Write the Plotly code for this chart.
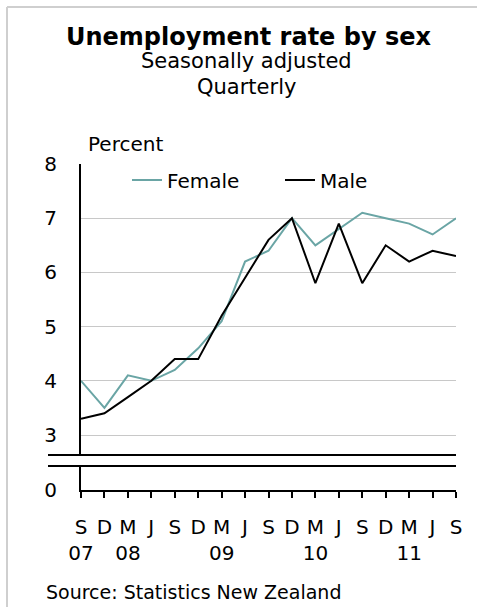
import plotly.graph_objects as go

quarters = ["S", "D", "M", "J", "S", "D", "M", "J", "S", "D", "M", "J", "S", "D", "M", "J", "S"]
years = ["07", "", "08", "", "", "", "09", "", "", "", "10", "", "", "", "11", "", ""]
female = [4.0, 3.5, 4.1, 4.0, 4.2, 4.6, 5.1, 6.2, 6.4, 7.0, 6.5, 6.8, 7.1, 7.0, 6.9, 6.7, 7.0]
male = [3.3, 3.4, 3.7, 4.0, 4.4, 4.4, 5.2, 5.9, 6.6, 7.0, 5.8, 6.9, 5.8, 6.5, 6.2, 6.4, 6.3]
y_ticks_top = [3, 4, 5, 6, 7, 8]
y_ticks_bottom = [0]

W, H = 477, 607
ML, MR, MT, MB = 81, 21, 164, 117
PW, PH = W - ML - MR, H - MT - MB


def px(xp):
    return (xp - ML) / PW


def py(yp):
    return (H - MB - yp) / PH


FONT = "DejaVu Sans"
x = list(range(len(quarters)))
ticktext = [q + ("<br>" + y if y else "") for q, y in zip(quarters, years)]

fig = go.Figure()
fig.add_trace(go.Scatter(x=x, y=female, name="Female", mode="lines",
                         line=dict(color="#6aa5a5", width=2)))
fig.add_trace(go.Scatter(x=x, y=male, name="Male", mode="lines",
                         line=dict(color="#000000", width=2)))
# empty trace so that the lower (broken-axis) panel is created
fig.add_trace(go.Scatter(x=[], y=[], xaxis="x", yaxis="y2", mode="lines",
                         showlegend=False, hoverinfo="skip"))

top_lo = py(455)
bot_hi = py(466)

fig.update_layout(
    width=W, height=H,
    margin=dict(l=ML, r=MR, t=MT, b=MB, pad=0),
    paper_bgcolor="white", plot_bgcolor="white",
    font=dict(family=FONT, size=20, color="black"),
    showlegend=True,
    legend=dict(orientation="h", x=px(127), xanchor="left", y=py(180), yanchor="middle",
                font=dict(size=20), bgcolor="rgba(0,0,0,0)", itemwidth=30,
                entrywidth=108, entrywidthmode="pixels", tracegroupgap=0),
    xaxis=dict(range=[0, len(quarters) - 1], anchor="y2", showgrid=False, zeroline=False,
               showline=True, linecolor="black", linewidth=2,
               ticks="outside", ticklen=6, tickwidth=2, tickcolor="black",
               tickvals=x, ticktext=ticktext, tickangle=0, ticklabelstandoff=12,
               tickfont=dict(size=20)),
    yaxis=dict(domain=[top_lo, 1], range=[3 - 20 / 54.2, 8], anchor="x",
               tickvals=y_ticks_top, showgrid=True, gridcolor="#c8c8c8", gridwidth=1,
               zeroline=False, showline=True, linecolor="black", linewidth=2,
               ticks="", ticklabelstandoff=18, tickfont=dict(size=20)),
    yaxis2=dict(domain=[0, bot_hi], range=[0, 24 / 54.2], anchor="x",
                tickvals=y_ticks_bottom, showgrid=False, zeroline=False,
                showline=True, linecolor="black", linewidth=2,
                ticks="", ticklabelstandoff=18, tickfont=dict(size=20)),
)

shapes = []
for yp in (455, 466):
    shapes.append(dict(type="line", xref="paper", yref="paper",
                       x0=px(48), x1=px(456), y0=py(yp), y1=py(yp),
                       line=dict(color="black", width=2)))
# light frame on top and left
shapes.append(dict(type="line", xref="paper", yref="paper", x0=px(7), x1=px(477),
                   y0=py(7), y1=py(7), line=dict(color="#cfcfcf", width=2)))
shapes.append(dict(type="line", xref="paper", yref="paper", x0=px(7), x1=px(7),
                   y0=py(7), y1=py(607), line=dict(color="#cfcfcf", width=2)))
fig.update_layout(shapes=shapes)

ann = [
    dict(text="<b>Unemployment rate by sex</b>", x=px(248.5), y=py(37), size=24),
    dict(text="Seasonally adjusted", x=px(246), y=py(61), size=21),
    dict(text="Quarterly", x=px(246.5), y=py(87), size=21),
]
for a in ann:
    fig.add_annotation(text=a["text"], x=a["x"], y=a["y"], xref="paper", yref="paper",
                       xanchor="center", yanchor="middle", showarrow=False,
                       font=dict(family=FONT, size=a["size"], color="black"))
fig.add_annotation(text="Percent", x=px(86), y=py(144), xref="paper", yref="paper",
                   xanchor="left", yanchor="middle", showarrow=False,
                   font=dict(family=FONT, size=20, color="black"))
fig.add_annotation(text="Source: Statistics New Zealand", x=px(44), y=py(592),
                   xref="paper", yref="paper", xanchor="left", yanchor="middle",
                   showarrow=False, font=dict(family=FONT, size=19, color="black"))

fig.write_html("out.html", config={"displayModeBar": False},
               post_script="document.body.style.margin='0';document.body.style.overflow='hidden';")
